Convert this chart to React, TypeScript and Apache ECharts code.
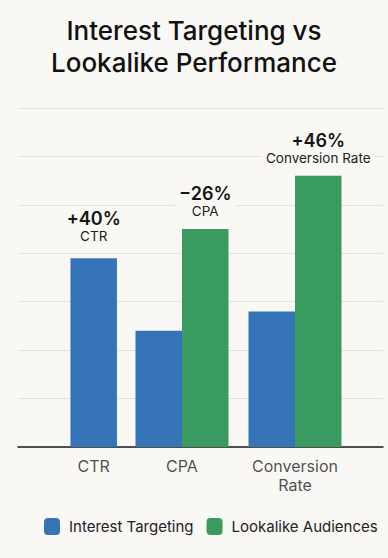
import React, { useEffect, useRef } from "react";
import * as echarts from "echarts";

// ---- data ----
const categories = ["CTR", "CPA", "Conversion\nRate"];
const interestValues: (number | null)[] = [39, 24, 28];
const lookalikeValues: (number | null)[] = [null, 45, 56];
const liftValues = ["+40%", "\u221226%", "+46%"];
const liftMetrics = ["CTR", "CPA", "Conversion Rate"];
const yTicks = [0, 10, 20, 30, 40, 50, 60, 70];

// ---- layout (x positions of category centres, in percent of plot width) ----
const categoryCenters = [20.74, 44.93, 75.89];
const BAR_W = 46.5;

const BG = "#f9f8f5";
const BLUE = "#3574b6";
const GREEN = "#3a9b60";
const FONT = "Inter, 'Noto Sans', sans-serif";

export default function App() {
  const ref = useRef<HTMLDivElement>(null);

  useEffect(() => {
    if (!ref.current) return;
    const chart = echarts.init(ref.current, undefined, { renderer: "svg" });

    const liftLabel = (i: number, distance: number) => ({
      show: true,
      position: "top",
      distance,
      formatter: `{v|${liftValues[i]}}\n{m|${liftMetrics[i]}}`,
      backgroundColor: BG,
      padding: [1, 4, 1, 4],
      rich: {
        v: { fontSize: 18, fontWeight: 600, lineHeight: 19, color: "#151515", fontFamily: FONT },
        m: { fontSize: 13.5, lineHeight: 16, color: "#222", fontFamily: FONT },
      },
    });

    const groupedBlue: any[] = [];
    const groupedGreen: any[] = [];
    const soloBlue: any[] = [];
    categories.forEach((_, i) => {
      const x = categoryCenters[i];
      if (lookalikeValues[i] == null) {
        soloBlue.push({ value: [x, interestValues[i]], label: liftLabel(i, 13) });
      } else {
        groupedBlue.push({ value: [x, interestValues[i]] });
        groupedGreen.push({ value: [x, lookalikeValues[i]], label: liftLabel(i, 9) });
      }
    });

    const option: any = {
      animation: false,
      backgroundColor: BG,
      title: {
        text: "Interest Targeting vs\nLookalike Performance",
        left: "center",
        top: 9,
        textStyle: {
          fontFamily: FONT,
          fontSize: 26,
          fontWeight: 500,
          lineHeight: 32,
          color: "#111",
        },
      },
      legend: {
        data: ["Interest Targeting", "Lookalike Audiences"],
        left: 44,
        top: 518,
        padding: 0,
        width: 344,
        icon: "roundRect",
        itemWidth: 16,
        itemHeight: 17,
        itemGap: 13,
        textStyle: { fontFamily: FONT, fontSize: 15, color: "#222", padding: [0, 0, 0, 4] },
      },
      grid: { left: 18, right: 5, top: 108, bottom: 111 },
      xAxis: [
        {
          type: "value",
          min: 0,
          max: 100,
          axisLine: { show: true, onZero: true, lineStyle: { color: "#1c1c1c", width: 1.5 } },
          axisTick: { show: false },
          axisLabel: { show: false },
          splitLine: { show: false },
        },
        {
          type: "value",
          min: 0,
          max: 100,
          show: false,
          splitLine: { show: false },
        },
      ],
      yAxis: {
        type: "value",
        min: yTicks[0],
        max: yTicks[yTicks.length - 1],
        interval: yTicks[1] - yTicks[0],
        axisLine: { show: false },
        axisTick: { show: false },
        axisLabel: { show: false },
        splitLine: { show: true, lineStyle: { color: "#e4e3e0", width: 1 } },
      },
      series: [
        {
          name: "Interest Targeting",
          type: "bar",
          xAxisIndex: 0,
          barWidth: BAR_W,
          barGap: "0%",
          itemStyle: { color: BLUE },
          data: groupedBlue,
        },
        {
          name: "Lookalike Audiences",
          type: "bar",
          xAxisIndex: 0,
          barWidth: BAR_W,
          barGap: "0%",
          itemStyle: { color: GREEN },
          data: groupedGreen,
        },
        {
          name: "Interest Targeting",
          type: "bar",
          xAxisIndex: 1,
          barWidth: BAR_W,
          itemStyle: { color: BLUE },
          data: soloBlue,
        },
        {
          name: "categoryLabels",
          type: "scatter",
          xAxisIndex: 0,
          symbolSize: 0,
          clip: false,
          silent: true,
          data: categories.map((c, i) => ({ value: [categoryCenters[i], 0], name: c })),
          label: {
            show: true,
            position: "bottom",
            distance: 9,
            formatter: (p: any) => p.name,
            fontFamily: FONT,
            fontSize: 16,
            lineHeight: 19,
            color: "#1e1e1e",
          },
        },
      ],
    };

    chart.setOption(option);
    return () => chart.dispose();
  }, []);

  return (
    <div
      ref={ref}
      style={{ position: "fixed", left: 0, top: 0, width: 388, height: 558, background: BG }}
    />
  );
}
